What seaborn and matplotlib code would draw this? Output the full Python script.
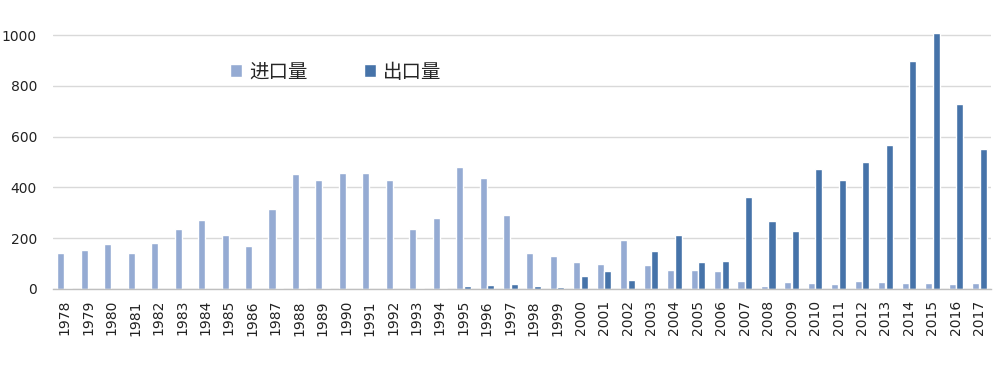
import pandas as pd
import matplotlib
matplotlib.use('Agg')
import matplotlib.pyplot as plt
import seaborn as sns

# Data
years = [str(y) for y in range(1978, 2018)]
imports = [142, 155, 177, 142, 181, 236, 272, 213, 169, 315,
           453, 430, 457, 457, 430, 236, 280, 480, 437, 291,
           142, 130, 106, 98, 193, 94, 75, 75, 71, 32,
           12, 28, 24, 20, 32, 28, 24, 24, 20, 24]
exports = [4, 0, 0, 0, 0, 0, 0, 0, 0, 4,
           4, 4, 0, 0, 0, 4, 4, 12, 16, 20,
           12, 8, 51, 71, 35, 150, 213, 106, 110, 362,
           268, 228, 472, 429, 500, 567, 898, 1008, 728, 551]
series_names = ['进口量', '出口量']
colors = ['#95ABD3', '#4673A9']

df = pd.DataFrame({
    'year': years * 2,
    'value': imports + exports,
    'kind': [series_names[0]] * len(years) + [series_names[1]] * len(years),
})

sns.set_theme(style='white')
plt.rcParams['font.family'] = ['DejaVu Sans', 'Noto Sans CJK SC']

fig = plt.figure(figsize=(10, 3.72), dpi=100)
ax = fig.add_axes([0.053, 1 - 289 / 372, 0.938, (289 - 33) / 372])

sns.barplot(data=df, x='year', y='value', hue='kind', palette=colors,
            width=0.64, gap=0.06, saturation=1, ax=ax)

ax.set_xlim(-0.5, len(years) - 0.5)
ax.set_ylim(0, 1008)
ax.set_yticks([0, 200, 400, 600, 800, 1000])
ax.yaxis.grid(True, color='#d9d9d9', linewidth=1)
ax.set_axisbelow(True)
for s in ['top', 'right', 'left']:
    ax.spines[s].set_visible(False)
ax.spines['bottom'].set_color('#bfbfbf')
ax.spines['bottom'].set_linewidth(1)
ax.set_xlabel('')
ax.set_ylabel('')
ax.tick_params(axis='x', length=0, pad=8, labelsize=10, labelcolor='#222222')
ax.tick_params(axis='y', length=0, pad=11.5, labelsize=10, labelcolor='#222222')
plt.setp(ax.get_xticklabels(), rotation=90)

handles, labels = ax.get_legend_handles_labels()
ax.legend(handles, labels, ncol=2, frameon=False, loc='center left',
          bbox_to_anchor=(0.23, 1 - 72 / 372), bbox_transform=fig.transFigure,
          borderpad=0, borderaxespad=0, handlelength=0.62, handleheight=0.62,
          handletextpad=0.35, columnspacing=2.9,
          prop={'family': ['Noto Sans CJK SC'], 'size': 14})

fig.savefig('out.png', dpi=100)
